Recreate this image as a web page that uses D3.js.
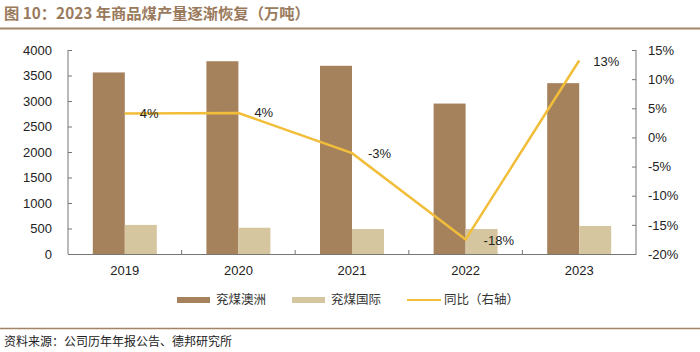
<!DOCTYPE html>
<html><head><meta charset="utf-8">
<script src="https://cdn.jsdelivr.net/npm/d3@7"></script>
<style>body{margin:0;background:#fff;}svg{display:block;font-family:"Liberation Sans",Arial,sans-serif;}</style>
</head><body>
<svg id="c" width="700" height="352"></svg>
<script>
const categories = ["2019","2020","2021","2022","2023"];
const australia = [3560, 3780, 3690, 2950, 3350];
const international = [570, 515, 490, 490, 550];
const yoy = [4.1, 4.2, -2.7, -17.5, 13.2];
const yoyLabels = ["4%","4%","-3%","-18%","13%"];
const leftTicks = [0,500,1000,1500,2000,2500,3000,3500,4000];
const rightTicks = [-20,-15,-10,-5,0,5,10,15];
const seriesNames = ["兖煤澳洲","兖煤国际","同比（右轴）"];
const colors = ["#A6825C","#D6C6A0","#F2BE3A"];

const svg = d3.select("#c");
const cjk = '"Noto Sans CJK SC","Noto Sans",sans-serif';
const L=68, R=636, T=50, B=254;

svg.append("text").attr("x",4).attr("y",19).attr("fill","#9A7A5C").attr("font-weight","bold")
  .attr("font-size",15.3).style("font-family",cjk).text("图 10：2023 年商品煤产量逐渐恢复（万吨）");
svg.append("line").attr("x1",0).attr("x2",700).attr("y1",28.5).attr("y2",28.5).attr("stroke","#A48466").attr("stroke-width",2);

const x = d3.scaleBand().domain(categories).range([L,R]);
const yL = d3.scaleLinear().domain([0,4000]).range([B,T]);
const yR = d3.scaleLinear().domain([-20,15]).range([B,T]);
const bw = 32;

// bars
svg.append("g").selectAll("rect").data(categories).join("rect")
  .attr("x",(d)=>x(d)+x.bandwidth()/2-bw).attr("width",bw)
  .attr("y",(d,i)=>yL(australia[i])).attr("height",(d,i)=>B-yL(australia[i])).attr("fill",colors[0]);
svg.append("g").selectAll("rect").data(categories).join("rect")
  .attr("x",(d)=>x(d)+x.bandwidth()/2).attr("width",bw)
  .attr("y",(d,i)=>yL(international[i])).attr("height",(d,i)=>B-yL(international[i])).attr("fill",colors[1]);

// axes
const axisColor="#777";
const gl = svg.append("g").attr("transform",`translate(${L},0)`)
  .call(d3.axisLeft(yL).tickValues(leftTicks).tickSize(-4).tickPadding(16).tickFormat(d3.format("d")));
const gr = svg.append("g").attr("transform",`translate(${R},0)`)
  .call(d3.axisRight(yR).tickValues(rightTicks).tickSize(-4).tickPadding(12).tickFormat(d=>d+"%"));
const gx = svg.append("g").attr("transform",`translate(0,${B})`)
  .call(d3.axisBottom(x).tickSize(0).tickPadding(12));
[gl,gr,gx].forEach(g=>{
  g.select(".domain").attr("stroke",axisColor);
  g.selectAll(".tick line").attr("stroke",axisColor);
  g.selectAll("text").attr("font-size",13).attr("fill","#222").style("font-family",'"Liberation Sans",Arial,sans-serif');
});
gl.select(".domain").attr("d",`M-0,${T}V${B}`);
gr.select(".domain").attr("d",`M0,${T}V${B}`);
// x separators
svg.append("g").selectAll("line").data(categories.slice(1)).join("line")
  .attr("x1",d=>x(d)).attr("x2",d=>x(d)).attr("y1",B).attr("y2",B-4).attr("stroke",axisColor);

// line
const line = d3.line().x((d,i)=>x(categories[i])+x.bandwidth()/2).y(d=>yR(d));
svg.append("path").datum(yoy).attr("d",line).attr("fill","none").attr("stroke",colors[2]).attr("stroke-width",2.5);

const offs = [[15,0],[16,0],[16,0],[18,1],[14,1]];
svg.append("g").selectAll("text").data(yoy).join("text")
  .attr("x",(d,i)=>x(categories[i])+x.bandwidth()/2+offs[i][0])
  .attr("y",(d,i)=>yR(d)+offs[i][1]).attr("dy","0.35em")
  .attr("font-size",13).attr("fill","#222").text((d,i)=>yoyLabels[i]);

// legend
const lg = svg.append("g");
const lx = [177,292,407];
seriesNames.forEach((n,i)=>{
  if(i<2) lg.append("rect").attr("x",lx[i]).attr("y",297).attr("width",33).attr("height",6).attr("fill",colors[i]);
  else lg.append("line").attr("x1",lx[i]).attr("x2",lx[i]+34).attr("y1",300).attr("y2",300).attr("stroke",colors[i]).attr("stroke-width",2);
  lg.append("text").attr("x",lx[i]+(i<2?39:37)).attr("y",300).attr("dy","0.35em").attr("font-size",12.5)
    .attr("fill","#333").style("font-family",cjk).text(n);
});

svg.append("line").attr("x1",0).attr("x2",700).attr("y1",328.5).attr("y2",328.5).attr("stroke","#A48466").attr("stroke-width",1.5);
svg.append("text").attr("x",4).attr("y",346).attr("font-size",12).attr("fill","#222").style("font-family",cjk)
  .text("资料来源：公司历年年报公告、德邦研究所");
</script>
</body></html>
